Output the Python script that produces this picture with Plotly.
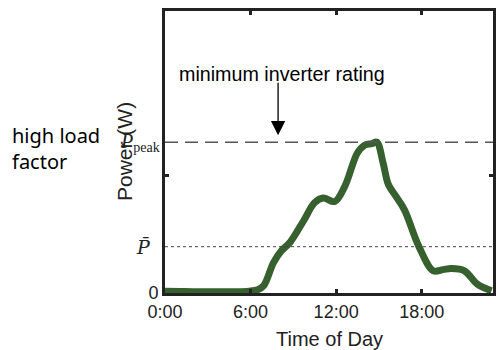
import plotly.graph_objects as go

# Data (hours, normalized power: P_peak = 1)
hours = [0, 1, 2, 3, 4, 5, 5.9, 6.5, 6.93, 7.6, 8.16, 8.76, 9.7, 10.5, 11.1, 11.9, 12.6, 13.5, 14.0, 14.5, 14.85, 15.3, 15.66, 16.2, 16.8, 17.79, 18.82, 19.5, 20.07, 20.99, 21.9, 22.9]
power = [0.012, 0.01, 0.008, 0.008, 0.008, 0.008, 0.012, 0.022, 0.05, 0.2, 0.28, 0.335, 0.476, 0.6, 0.63, 0.607, 0.706, 0.93, 0.98, 0.99, 1.0, 0.86, 0.72, 0.64, 0.55, 0.311, 0.147, 0.155, 0.162, 0.147, 0.059, 0.015]
p_peak = 1.0
p_bar = 0.307
x_tickvals = [0, 6, 12, 18]
x_ticktext = ["0:00", "6:00", "12:00", "18:00"]

fig = go.Figure()
fig.add_trace(go.Scatter(x=hours, y=power, mode="lines",
                         line=dict(color="#36612f", width=7, shape="spline", smoothing=1.0),
                         hoverinfo="skip", showlegend=False))

fig.add_shape(type="line", xref="paper", yref="y", x0=0, x1=1, y0=p_peak, y1=p_peak,
              line=dict(color="#555555", width=1.5, dash="13px,7px"))
fig.add_shape(type="line", xref="paper", yref="y", x0=0, x1=1, y0=p_bar, y1=p_bar,
              line=dict(color="#444444", width=1, dash="dot"))

fig.update_layout(
    width=499, height=350,
    margin=dict(l=165, r=3, t=11, b=57),
    paper_bgcolor="white", plot_bgcolor="white",
    font=dict(family="Liberation Sans, Arial", size=18, color="#222222"),
    xaxis=dict(range=[0, 23], tickvals=x_tickvals, ticktext=x_ticktext,
               showgrid=False, zeroline=False, showline=True, linewidth=3, linecolor="#222222",
               mirror="ticks", ticks="inside", ticklen=4, tickwidth=3, tickcolor="#222222",
               tickfont=dict(size=18)),
    yaxis=dict(range=[0, 1.87], tickvals=[0, 0.778], ticktext=["0", ""],
               showgrid=False, zeroline=False, showline=True, linewidth=3, linecolor="#222222",
               mirror="ticks", ticks="inside", ticklen=4, tickwidth=3, tickcolor="#222222",
               tickfont=dict(size=18)),
    annotations=[
        dict(text="minimum inverter rating", xref="paper", yref="paper", x=0.357, y=0.778,
             xanchor="center", yanchor="middle", showarrow=False,
             font=dict(size=19.7, color="black")),
        dict(text="", xref="x", yref="y", x=7.93, y=1.046, ax=0, ay=-54,
             showarrow=True, arrowhead=2, arrowsize=2.2, arrowwidth=1.3, arrowcolor="black", standoff=0),
        dict(text="high load<br>factor", xref="paper", yref="paper", x=-0.473, y=0.512,
             xanchor="left", yanchor="middle", align="left", showarrow=False,
             font=dict(family="Noto Sans", size=20, color="black")),
        dict(text="Power (W)", xref="paper", yref="paper", x=0, y=0.5, xshift=-41,
             xanchor="center", yanchor="middle", textangle=-90, showarrow=False,
             font=dict(size=21, color="#222222")),
        dict(text="Time of Day", xref="paper", yref="paper", x=0.5, y=-0.162,
             xanchor="center", yanchor="middle", showarrow=False,
             font=dict(size=20, color="#222222")),
        dict(text="<i>P\u0304</i>", xref="paper", yref="y", x=0, y=p_bar, xshift=-12,
             xanchor="right", yanchor="middle", showarrow=False,
             font=dict(family="DejaVu Serif, Liberation Serif", size=19, color="#222222")),
        dict(text="<i>P</i><sub>peak</sub>", xref="paper", yref="y", x=0, y=p_peak, xshift=-3,
             xanchor="right", yanchor="middle", showarrow=False,
             font=dict(family="Liberation Serif, DejaVu Serif", size=20, color="#222222")),
    ],
)

fig.write_html("out.html", config={"displayModeBar": False},
               post_script="document.body.style.margin='0';")
